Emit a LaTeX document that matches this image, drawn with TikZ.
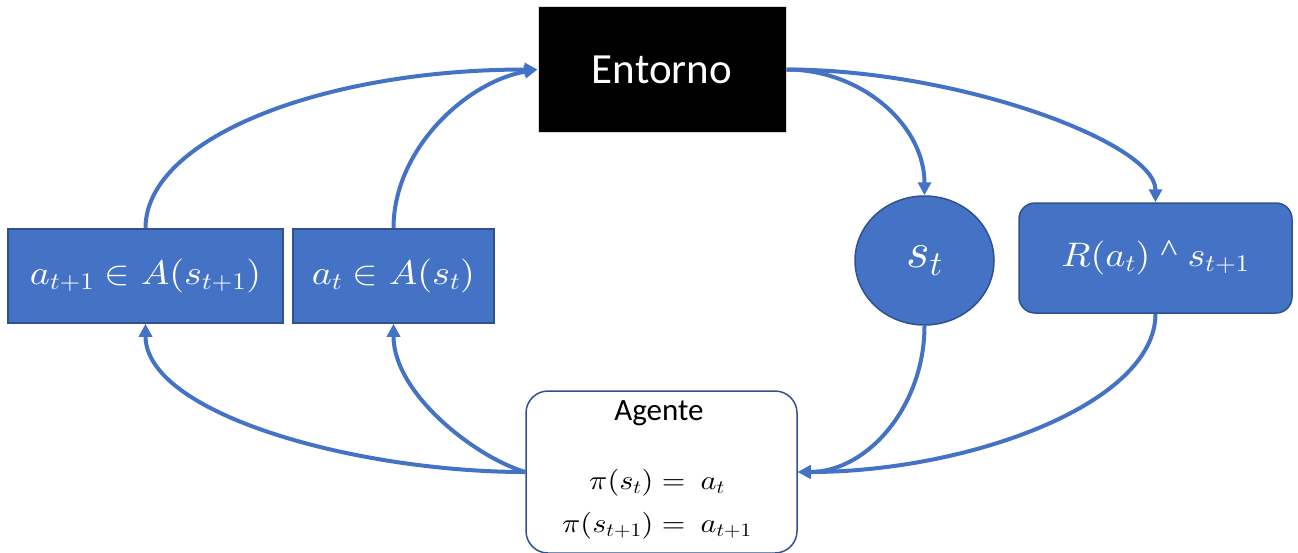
\documentclass[tikz,border=0pt]{standalone}
\usepackage{graphicx}
\usepackage{fontspec}
\setmainfont{Carlito}
\newfontfamily\caretfont{Liberation Serif}
% scalable Computer Modern math at any size
\DeclareFontShape{OML}{cmm}{m}{it}{<->cmmi10}{}
\DeclareFontShape{OMS}{cmsy}{m}{n}{<->cmsy10}{}
\DeclareFontShape{OT1}{cmr}{m}{n}{<->cmr10}{}
\DeclareFontShape{OMX}{cmex}{m}{n}{<->cmex10}{}
% slightly widened formulas
\newcommand{\widemath}[1]{\scalebox{1.12}[1]{#1}}
\usetikzlibrary{arrows.meta,shapes.geometric}
\definecolor{boxblue}{HTML}{4472C4}
\definecolor{edgeblue}{HTML}{2F528F}
\tikzset{
  bluebox/.style={draw=edgeblue, fill=boxblue, line width=1.5pt, text=white, inner sep=0pt},
  flow/.style={draw=boxblue, line width=4pt, -{Triangle[length=13pt,width=13pt]}},
  mathbig/.style={font=\fontsize{34}{40}\selectfont},
  mathsmall/.style={font=\fontsize{27}{32}\selectfont},
}
\begin{document}
\begin{tikzpicture}[x=1pt,y=-1pt]
\useasboundingbox (0,0) rectangle (1298,552);

% environment
\node[fill=black, draw=black!15, line width=1pt, minimum width=248pt, minimum height=126pt,
      text=white, font=\fontsize{43}{50}\selectfont] (env) at (662,69.5) {Entorno};

% action boxes
\node[bluebox, minimum width=275pt, minimum height=94pt, mathbig] (anext) at (145.5,276)
  {\widemath{$a_{t+1}\in A(s_{t+1})$}};
\node[bluebox, minimum width=201pt, minimum height=94pt, mathbig] (anow) at (393.5,276)
  {\widemath{$a_{t}\in A(s_{t})$}};

% state and reward
\node[bluebox, ellipse, minimum width=139pt, minimum height=129pt, font=\fontsize{50}{56}\selectfont]
  (state) at (924.5,260.5) {$s_t$};
\node[bluebox, rounded corners=16pt, minimum width=273pt, minimum height=110pt, mathbig]
  (reward) at (1155.5,258)
  {\widemath{$R(a_t)$\hspace{9pt}\raisebox{5pt}{\caretfont\fontsize{32}{32}\selectfont\textasciicircum}\hspace{9pt}$s_{t+1}$}};

% agent
\node[draw=edgeblue, fill=white, line width=1.5pt, rounded corners=22pt,
      minimum width=271pt, minimum height=162pt] (agent) at (661.5,472) {};
\node[font=\fontsize{31}{36}\selectfont] (agname) at (659,413) {Agente};
\node[mathsmall] (pol1) at (657,483) {\widemath{$\pi(s_t) =\ a_t$}};
\node[mathsmall] (pol2) at (657,526) {\widemath{$\pi(s_{t+1}) =\ a_{t+1}$}};

% connectors: actions feed the environment
\draw[flow] (anext.north) .. controls +(0,-90) and +(-215,0) .. (env.west);
\draw[flow] (anow.north) .. controls +(0,-80) and +(-70,12) .. (env.west);
% the environment returns state and reward
\draw[flow] (env.east) .. controls +(75,0) and +(0,-70) .. (state.north);
\draw[flow] (env.east) .. controls +(170,0) and +(0,-60) .. (reward.north);
% state and reward reach the agent
\draw[flow] (state.south) .. controls +(0,80) and +(70,0) .. (agent.east);
\draw[flow] (reward.south) .. controls +(0,90) and +(170,0) .. (agent.east);
% the agent picks the next actions
\draw[flow] (agent.west) .. controls +(-170,0) and +(0,90) .. (anext.south);
\draw[flow] (agent.west) .. controls +(-50,-15) and +(0,70) .. (anow.south);
\end{tikzpicture}
\end{document}
